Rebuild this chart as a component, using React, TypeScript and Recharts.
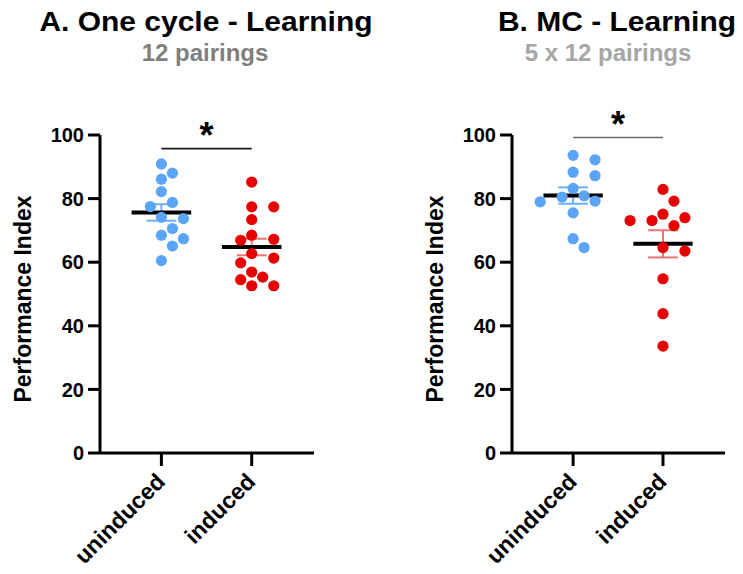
import React from 'react';
import { ScatterChart, Scatter, XAxis, YAxis, ReferenceLine } from 'recharts';

// ---------- data ----------
const categories = ['uninduced', 'induced'];
const yTicks = [0, 20, 40, 60, 80, 100];

const aUninduced = [90.9, 88.0, 86.1, 82.2, 78.8, 77.5, 74.1, 73.7, 70.6, 68.5, 67.4, 65.1, 60.5];
const aInduced = [85.2, 77.4, 77.4, 73.4, 68.5, 67.2, 66.9, 62.7, 61.3, 59.8, 56.9, 55.3, 54.5, 52.6, 52.6];
const bUninduced = [93.6, 92.2, 88.3, 87.2, 83.2, 80.9, 80.5, 79.2, 79.0, 75.5, 67.4, 64.6];
const bInduced = [82.9, 79.2, 75.1, 74.0, 73.1, 73.1, 71.5, 64.6, 63.5, 54.8, 43.8, 33.6];

const sigLevelA = 95.7;
const sigLevelB = 99.2;

const titleA = 'A. One cycle - Learning';
const subtitleA = '12 pairings';
const titleB = 'B. MC - Learning';
const subtitleB = '5 x 12 pairings';
const yLabel = 'Performance Index';

// ---------- styling ----------
const FONT = "'Liberation Sans', Arial, Helvetica, sans-serif";
const BLUE = '#5BA4F6';
const RED = '#E60000';
const BLUE_ERR = '#6AAEF6';
const RED_ERR = '#F07272';
const X_DOMAIN: [number, number] = [0.32, 2.69];
const PX_PER_X = 90.1; // plot width / domain span
const PX_PER_Y = 3.18; // plot height / 100
const DOT_R = 5.6;
const SWARM_STEP = 11; // px
const SWARM_DIAM = 12; // px

// simple beeswarm: returns x offsets (in x-axis units) for each value
function swarm(values: number[]): number[] {
  const idx = values.map((_, i) => i).sort((a, b) => values[b] - values[a]);
  const placed: { x: number; y: number }[] = [];
  const out = new Array(values.length).fill(0);
  const ks = [0, 1, -1, 2, -2, 3, -3, 4, -4, 5, -5];
  idx.forEach((i) => {
    const y = values[i] * PX_PER_Y;
    for (const k of ks) {
      const x = k * SWARM_STEP;
      const ok = placed.every((p) => (p.x - x) ** 2 + (p.y - y) ** 2 >= SWARM_DIAM * SWARM_DIAM);
      if (ok) {
        placed.push({ x, y });
        out[i] = x / PX_PER_X;
        break;
      }
    }
  });
  return out;
}

function toPoints(values: number[], cat: number) {
  const offs = swarm(values);
  return values.map((v, i) => ({ x: cat + offs[i], y: v }));
}

function stats(values: number[]) {
  const n = values.length;
  const mean = values.reduce((s, v) => s + v, 0) / n;
  const sd = Math.sqrt(values.reduce((s, v) => s + (v - mean) ** 2, 0) / (n - 1));
  return { mean, sem: sd / Math.sqrt(n) };
}

const XTick = (props: any) => {
  const { x, y, payload } = props;
  return (
    <g transform={`translate(${x + 5},${y + 15}) rotate(-45)`}>
      <text textAnchor="end" fontSize={23} fontWeight="bold" fontFamily={FONT} fill="#000">
        {categories[payload.value - 1]}
      </text>
    </g>
  );
};

const YLabel = (props: any) => {
  const vb = props.viewBox || { x: 0, y: 135, width: 100, height: 318 };
  const cx = 31;
  const cy = vb.y + vb.height / 2 + 5;
  return (
    <text
      x={cx}
      y={cy}
      transform={`rotate(-90 ${cx} ${cy})`}
      textAnchor="middle"
      fontSize={23}
      fontWeight="bold"
      fontFamily={FONT}
      fill="#000"
    >
      {yLabel}
    </text>
  );
};

function Panel({
  left,
  width,
  marginRight,
  g1,
  g2,
  sig,
  sigColor,
}: {
  left: number;
  width: number;
  marginRight: number;
  g1: number[];
  g2: number[];
  sig: number;
  sigColor: string;
}) {
  const p1 = toPoints(g1, 1);
  const p2 = toPoints(g2, 2);
  const s1 = stats(g1);
  const s2 = stats(g2);
  const meanHalf = 0.33;
  const capHalf = 0.165;
  const errLines = (cat: number, s: { mean: number; sem: number }, color: string) => [
    <ReferenceLine
      key={`v${cat}`}
      segment={[{ x: cat, y: s.mean - s.sem }, { x: cat, y: s.mean + s.sem }]}
      stroke={color}
      strokeWidth={2}
    />,
    <ReferenceLine
      key={`t${cat}`}
      segment={[{ x: cat - capHalf, y: s.mean + s.sem }, { x: cat + capHalf, y: s.mean + s.sem }]}
      stroke={color}
      strokeWidth={2}
    />,
    <ReferenceLine
      key={`b${cat}`}
      segment={[{ x: cat - capHalf, y: s.mean - s.sem }, { x: cat + capHalf, y: s.mean - s.sem }]}
      stroke={color}
      strokeWidth={2}
    />,
    <ReferenceLine
      key={`m${cat}`}
      segment={[{ x: cat - meanHalf, y: s.mean }, { x: cat + meanHalf, y: s.mean }]}
      stroke="#000"
      strokeWidth={4}
    />,
  ];
  return (
    <div style={{ position: 'absolute', left, top: 0 }}>
      <ScatterChart width={width} height={574} margin={{ top: 135, right: marginRight, bottom: 21, left: 0 }}>
        <XAxis
          type="number"
          dataKey="x"
          domain={X_DOMAIN}
          ticks={[1, 2]}
          allowDataOverflow
          height={100}
          tickSize={13}
          tickMargin={2}
          axisLine={{ stroke: '#000', strokeWidth: 3 }}
          tickLine={{ stroke: '#000', strokeWidth: 3 }}
          tick={<XTick />}
          interval={0}
        />
        <YAxis
          type="number"
          dataKey="y"
          domain={[0, 100]}
          ticks={yTicks}
          width={100}
          tickSize={12}
          tickMargin={4}
          axisLine={{ stroke: '#000', strokeWidth: 3 }}
          tickLine={{ stroke: '#000', strokeWidth: 3 }}
          tick={{ fill: '#000', fontSize: 20, fontWeight: 'bold', fontFamily: FONT }}
          label={<YLabel />}
          interval={0}
        />
        <Scatter
          data={p1}
          isAnimationActive={false}
          shape={(p: any) => <circle cx={p.cx} cy={p.cy} r={DOT_R} fill={BLUE} />}
        />
        <Scatter
          data={p2}
          isAnimationActive={false}
          shape={(p: any) => <circle cx={p.cx} cy={p.cy} r={DOT_R} fill={RED} />}
        />
        {errLines(1, s1, BLUE_ERR)}
        {errLines(2, s2, RED_ERR)}
        <ReferenceLine
          segment={[{ x: 1, y: sig }, { x: 2, y: sig }]}
          stroke={sigColor}
          strokeWidth={1.6}
        />
        <Scatter
          data={[{ x: 1.5, y: sig }]}
          isAnimationActive={false}
          shape={(p: any) => (
            <text
              x={p.cx}
              y={p.cy - 1}
              textAnchor="middle"
              fontSize={36}
              fontWeight="bold"
              fontFamily={FONT}
              fill="#000"
            >
              *
            </text>
          )}
        />
      </ScatterChart>
    </div>
  );
}

const Title = ({ cx, top, size, color, text, sx }: any) => (
  <div
    style={{
      position: 'absolute',
      left: cx,
      top,
      transform: `translateX(-50%) scaleX(${sx})`,
      fontFamily: FONT,
      fontWeight: 'bold',
      fontSize: size,
      lineHeight: `${size}px`,
      color,
      whiteSpace: 'nowrap',
    }}
  >
    {text}
  </div>
);

export default function App() {
  return (
    <div style={{ position: 'absolute', left: 0, top: 0, width: 743, height: 574, background: '#fff', overflow: 'hidden' }}>
      <Title cx={206} top={9} size={27} color="#000" text={titleA} sx={1.11} />
      <Title cx={205} top={41} size={24} color="#7F7F7F" text={subtitleA} sx={1} />
      <Title cx={617} top={9} size={27} color="#000" text={titleB} sx={1.11} />
      <Title cx={608} top={41} size={24} color="#A6A6A6" text={subtitleB} sx={1} />
      <Panel left={0} width={371} marginRight={57} g1={aUninduced} g2={aInduced} sig={sigLevelA} sigColor="#1a1a1a" />
      <Panel left={412} width={331} marginRight={18} g1={bUninduced} g2={bInduced} sig={sigLevelB} sigColor="#6b6b6b" />
    </div>
  );
}
